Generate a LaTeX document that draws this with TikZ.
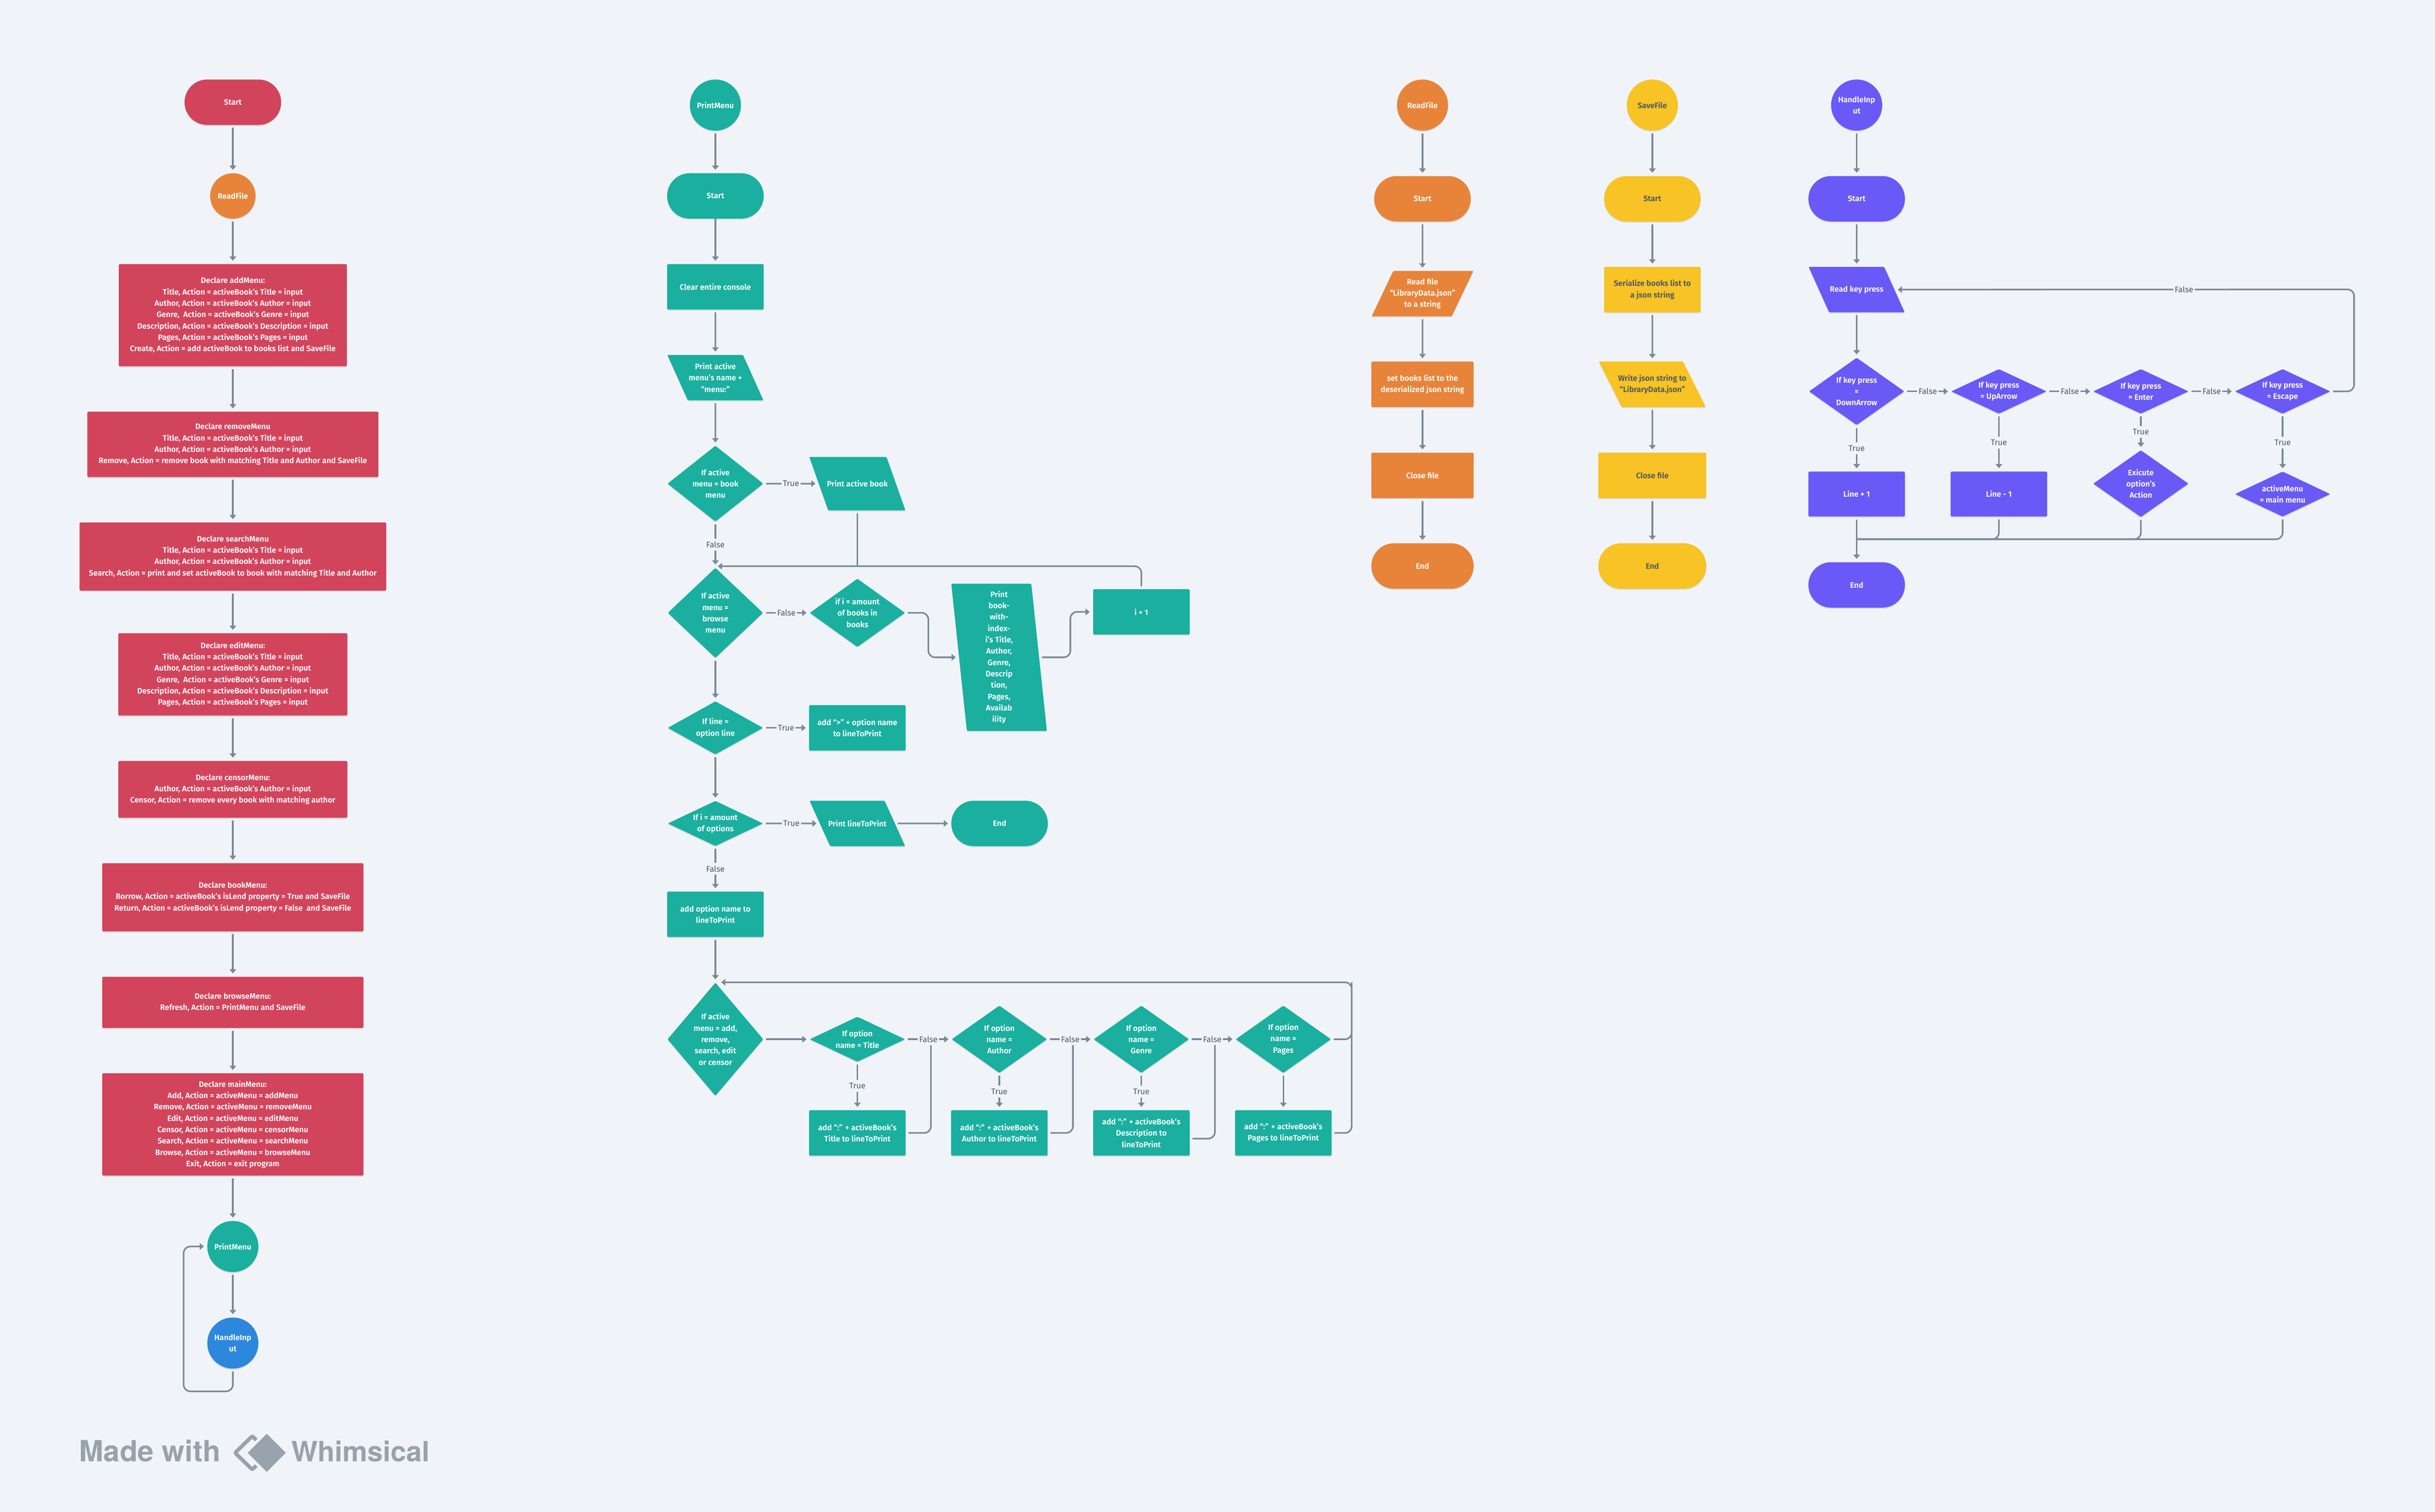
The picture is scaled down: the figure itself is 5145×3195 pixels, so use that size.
\documentclass[tikz,border=0pt]{standalone}
\usepackage{fontspec}
\setmainfont{Fira Sans}[BoldFont={Fira Sans SemiBold}]
\newfontfamily\logofont{TeX Gyre Heros}
\usetikzlibrary{arrows.meta,shapes.geometric,shadows}
\definecolor{bgc}{HTML}{F0F4F8}
\definecolor{redc}{HTML}{D2445B}
\definecolor{tealc}{HTML}{1AAF9F}
\definecolor{orangec}{HTML}{E8833A}
\definecolor{yellowc}{HTML}{F7C325}
\definecolor{purplec}{HTML}{6959F6}
\definecolor{bluec}{HTML}{2D87DD}
\definecolor{linec}{HTML}{7A8999}
\definecolor{labc}{HTML}{4B5766}
\definecolor{darkt}{HTML}{4A5560}
\definecolor{logoc}{HTML}{98A2AC}
\newcommand{\nf}{\fontsize{8.3}{12}\selectfont\bfseries}
\newcommand{\lf}{\fontsize{8.6}{12}\selectfont}
\newcommand{\ph}{\phantom{x}}
\tikzset{
  x=0.5pt,y=-0.5pt,
  wh/.style 2 args={minimum width=#1*0.5pt,minimum height=#2*0.5pt},
  shad/.style={general shadow={fill=black,opacity=.10,shadow yshift=-1.2pt}},
  base/.style={inner sep=0pt,outer sep=0pt,align=center,text=white,font=\nf,shad},
  rect/.style={base,rectangle,rounded corners=1pt},
  pill/.style={base,rectangle,rounded corners=23.9pt},
  circ/.style={base,ellipse},
  dia/.style={base,diamond,rounded corners=1pt},
  back/.style={base,trapezium,trapezium stretches=true,trapezium left angle=#1,trapezium right angle=180-#1,rounded corners=1pt},
  every label/.style={font=\nf,align=center,text=white,inner sep=0pt},
  line/.style={draw=linec,line width=1.7pt,rounded corners=7pt,shorten <=3pt},
  conn/.style={line,-{Triangle[width=7pt,length=4.5pt]},shorten >=3.5pt},
  lab/.style={fill=bgc,text=labc,font=\lf,inner xsep=1.5pt,inner ysep=0pt,minimum height=12.5pt,outer sep=0pt},
  logotext/.style={anchor=base west,inner sep=0pt,text=logoc,font=\logofont\fontsize{#1}{32}\selectfont\bfseries},
}
\begin{document}
\begin{tikzpicture}
\fill[bgc] (0,0) rectangle (5145,3195);
\useasboundingbox (0,0) rectangle (5145,3195);

% ---------- column 1
\begin{scope}[every node/.append style={fill=redc}]
\node[pill,wh={204}{96}] (s1) at (492,216) {Start};
\node[rect,wh={482}{216}] (addm) at (492,666) {Declare addMenu:\\Title, Action = activeBook’s Title = input\\Author, Action = activeBook’s Author = input\\Genre,\ \ Action = activeBook’s Genre = input\\Description, Action = activeBook’s Description = input\\Pages, Action = activeBook’s Pages = input\\Create, Action = add activeBook to books list and SaveFile};
\node[rect,wh={615}{138}] (remm) at (492,939) {Declare removeMenu\\Title, Action = activeBook’s Title = input\\Author, Action = activeBook’s Author = input\\Remove, Action = remove book with matching Title and Author and SaveFile};
\node[rect,wh={648}{144}] (sem) at (492,1176) {Declare searchMenu\\Title, Action = activeBook’s Title = input\\Author, Action = activeBook’s Author = input\\Search, Action = print and set activeBook to book with matching Title and Author};
\node[rect,wh={484}{174}] (edm) at (492,1425) {Declare editMenu:\\Title, Action = activeBook’s Title = input\\Author, Action = activeBook’s Author = input\\Genre,\ \ Action = activeBook’s Genre = input\\Description, Action = activeBook’s Description = input\\Pages, Action = activeBook’s Pages = input};
\node[rect,wh={484}{120}] (cem) at (492,1668) {Declare censorMenu:\\Author, Action = activeBook’s Author = input\\Censor, Action = remove every book with matching author};
\node[rect,wh={552}{144}] (bom) at (492,1896) {Declare bookMenu:\\Borrow, Action = activeBook’s isLend property = True and SaveFile\\Return, Action = activeBook’s isLend property = False\ \ and SaveFile};
\node[rect,wh={552}{108}] (brm) at (492,2118) {Declare browseMenu:\\Refresh, Action = PrintMenu and SaveFile};
\node[rect,wh={552}{216}] (mam) at (492,2376) {Declare mainMenu:\\Add, Action = activeMenu = addMenu\\Remove, Action = activeMenu = removeMenu\\Edit, Action = activeMenu = editMenu\\Censor, Action = activeMenu = censorMenu\\Search, Action = activeMenu = searchMenu\\Browse, Action = activeMenu = browseMenu\\Exit, Action = exit program};
\end{scope}
\node[circ,fill=orangec,wh={96}{96},label={center:{ReadFile}}] (rf1) at (492,414) {};
\node[circ,fill=tealc,wh={108}{108},label={center:{PrintMenu}}] (pm1) at (492,2634) {};
\node[circ,fill=bluec,wh={108}{108},label={center:{HandleInp\\ut}}] (hi1) at (492,2838) {};
\coordinate (lb1) at (388,2940);
\coordinate (lb2) at (388,2634);
\draw[conn] (s1.south)--(rf1.north);
\draw[conn] (rf1.south)--(addm.north);
\draw[conn] (addm.south)--(remm.north);
\draw[conn] (remm.south)--(sem.north);
\draw[conn] (sem.south)--(edm.north);
\draw[conn] (edm.south)--(cem.north);
\draw[conn] (cem.south)--(bom.north);
\draw[conn] (bom.south)--(brm.north);
\draw[conn] (brm.south)--(mam.north);
\draw[conn] (mam.south)--(pm1.north);
\draw[conn] (pm1.south)--(hi1.north);
\draw[conn] (hi1.south)|-(lb1)--(lb2)--(pm1.west);

% ---------- column 2
\begin{scope}[every node/.append style={fill=tealc}]
\node[circ,wh={108}{108},label={center:{PrintMenu}}] (pm) at (1511.6,222) {};
\node[pill,wh={204}{96}] (s2) at (1511.6,414) {Start};
\node[rect,wh={204}{96}] (clr) at (1511.6,606) {Clear entire console};
\node[back=109.5,wh={203}{96},label={center:{Print active\\menu’s name +\\“menu:”}}] (pam) at (1511.6,798) {\ph};
\node[dia,wh={202}{160},label={center:{If active\\menu = book\\menu}}] (d1) at (1511.6,1022) {};
\node[back=107.2,wh={203}{113},label={center:{Print active book}}] (pab) at (1811.6,1022) {\ph};
\node[dia,wh={201}{190},label={center:{If active\\menu =\\browse\\menu}}] (d2) at (1511.6,1295) {};
\node[dia,wh={201}{144},label={center:{if i = amount\\of books in\\books}}] (d3) at (1811.6,1295) {};
\node[back=103,wh={202}{311},label={center:{Print\\book-\\with-\\index-\\i’s Title,\\Author,\\Genre,\\Descrip\\tion,\\Pages,\\Availab\\ility}}] (pt) at (2111,1389) {\ph};
\node[rect,wh={204}{96}] (ip) at (2411.6,1293) {i + 1};
\node[dia,wh={201}{112},label={center:{If line =\\option line}}] (d4) at (1511.6,1538) {};
\node[rect,wh={204}{96}] (gt) at (1811.6,1538) {add “>” + option name\\to lineToPrint};
\node[dia,wh={201}{95},label={center:{If i = amount\\of options}}] (d5) at (1511.6,1740) {};
\node[back=109.8,wh={202}{96},label={center:{Print lineToPrint}}] (pl) at (1811.6,1740) {\ph};
\node[pill,wh={204}{96}] (e2) at (2112,1740) {End};
\node[rect,wh={204}{96}] (aon) at (1511.6,1932) {add option name to\\lineToPrint};
\node[dia,wh={202}{239},label={center:{If active\\menu = add,\\remove,\\search, edit\\or censor}}] (d6) at (1511.6,2196) {};
\node[dia,wh={201}{95},label={center:{If option\\name = Title}}] (o1) at (1811.6,2196) {};
\node[dia,wh={201}{142},label={center:{If option\\name =\\Author}}] (o2) at (2111.6,2196) {};
\node[dia,wh={201}{142},label={center:{If option\\name =\\Genre}}] (o3) at (2411.6,2196) {};
\node[dia,wh={201}{142},label={center:{If option\\name =\\Pages}}] (o4) at (2711.6,2196) {};
\node[rect,wh={204}{96}] (b1) at (1811.6,2394) {add “:” + activeBook’s\\Title to lineToPrint};
\node[rect,wh={204}{96}] (b2) at (2111.6,2394) {add “:” + activeBook’s\\Author to lineToPrint};
\node[rect,wh={204}{96}] (b3) at (2411.6,2394) {add “:” + activeBook’s\\Description to\\lineToPrint};
\node[rect,wh={204}{96}] (b4) at (2711.6,2394) {add “:” + activeBook’s\\Pages to lineToPrint};
\end{scope}
\coordinate (j1) at (1511.6,1196.5);
\coordinate (j1c) at (2411.6,1196.5);
\coordinate (j2) at (1511.6,2075.7);
\coordinate (j2r) at (2856,2075.7);
\coordinate (v1) at (1961.6,1389);
\coordinate (v2) at (2261.6,1293);
\coordinate (f1) at (1967,2196);
\coordinate (f2) at (2267,2196);
\coordinate (f3) at (2567,2196);
\draw[conn] (pm.south)--(s2.north);
\draw[conn,shorten <=0pt] (s2.south)--(clr.north);
\draw[conn] (clr.south)--(pam.north);
\draw[conn] (pam.south)--(d1.north);
\draw[conn] (d1.east)--node[lab]{True}(pab.west);
\draw[conn] (d1.south)--node[lab]{False}(d2.north);
\draw[line] (pab.south)--(pab.south|-j1);
\draw[conn,shorten >=2.5pt] (ip.north)--(j1c)--(j1);
\draw[conn] (d2.east)--node[lab]{False}(d3.west);
\draw[conn] (d3.east)-|(v1)--(pt.west);
\draw[conn] (pt.east)-|(v2)--(ip.west);
\draw[conn] (d2.south)--(d4.north);
\draw[conn] (d4.east)--node[lab]{True}(gt.west);
\draw[conn] (d4.south)--(d5.north);
\draw[conn] (d5.east)--node[lab]{True}(pl.west);
\draw[conn] (pl.east)--(e2.west);
\draw[conn] (d5.south)--node[lab]{False}(aon.north);
\draw[conn] (aon.south)--(d6.north);
\draw[conn] (d6.east)--(o1.west);
\draw[line] (b1.east)-|(f1);
\draw[line] (b2.east)-|(f2);
\draw[line] (b3.east)++(0,12)-|(f3);
\draw[conn] (o1.east)--node[lab]{False}(o2.west);
\draw[conn] (o2.east)--node[lab]{False}(o3.west);
\draw[conn] (o3.east)--node[lab]{False}(o4.west);
\draw[conn] (o1.south)--node[lab]{True}(b1.north);
\draw[conn] (o2.south)--node[lab]{True}(b2.north);
\draw[conn] (o3.south)--node[lab]{True}(b3.north);
\draw[conn] (o4.south)--(b4.north);
\draw[line] (o4.east)-|(j2r);
\draw[conn,shorten >=6pt] (b4.east)-|(j2r)--(j2);

% ---------- ReadFile
\begin{scope}[every node/.append style={fill=orangec}]
\node[circ,wh={108}{108},label={center:{ReadFile}}] (rf) at (3005.6,222) {};
\node[pill,wh={204}{96}] (s3) at (3005.6,420) {Start};
\node[back=70.5,wh={215}{96},label={center:{Read file\\“LibraryData.json”\\to a string}}] (rp) at (3005.6,620.5) {\ph};
\node[rect,wh={216}{96}] (sb) at (3005.6,812) {set books list to the\\deserialized json string};
\node[rect,wh={216}{96}] (cf) at (3005.6,1004.5) {Close file};
\node[pill,wh={216}{96}] (e3) at (3005.6,1196) {End};
\end{scope}
\draw[conn] (rf.south)--(s3.north);
\draw[conn] (s3.south)--(rp.north);
\draw[conn] (rp.south)--(sb.north);
\draw[conn] (sb.south)--(cf.north);
\draw[conn] (cf.south)--(e3.north);

% ---------- SaveFile
\begin{scope}[every node/.append style={fill=yellowc},every label/.append style={text=darkt},base/.append style={text=darkt}]
\node[circ,wh={108}{108},label={center:{SaveFile}}] (sf) at (3491.3,222) {};
\node[pill,wh={204}{96}] (s4) at (3491.3,420) {Start};
\node[rect,wh={204}{96}] (sz) at (3491.3,612) {Serialize books list to\\a json string};
\node[back=109.5,wh={226}{96},label={center:{Write json string to\\“LibraryData.json”}}] (wj) at (3491.3,812) {\ph};
\node[rect,wh={228}{96}] (cs) at (3491.3,1004.5) {Close file};
\node[pill,wh={228}{96}] (e4) at (3491.3,1196) {End};
\end{scope}
\draw[conn] (sf.south)--(s4.north);
\draw[conn] (s4.south)--(sz.north);
\draw[conn] (sz.south)--(wj.north);
\draw[conn] (wj.south)--(cs.north);
\draw[conn] (cs.south)--(e4.north);

% ---------- HandleInput
\begin{scope}[every node/.append style={fill=purplec}]
\node[circ,wh={108}{108},label={center:{HandleInp\\ut}}] (hi) at (3923,222) {};
\node[pill,wh={204}{96}] (s5) at (3923,420) {Start};
\node[back=109.5,wh={203}{96},label={center:{Read key press}}] (rk) at (3923,612) {\ph};
\node[dia,wh={201}{142},label={center:{If key press\\=\\DownArrow}}] (k1) at (3923,827) {};
\node[dia,wh={201}{94},label={center:{If key press\\= UpArrow}}] (k2) at (4223.5,827) {};
\node[dia,wh={201}{94},label={center:{If key press\\= Enter}}] (k3) at (4523.5,827) {};
\node[dia,wh={201}{94},label={center:{If key press\\= Escape}}] (k4) at (4823,827) {};
\node[rect,wh={204}{95}] (l1) at (3923,1044) {Line + 1};
\node[rect,wh={204}{95}] (l2) at (4223.5,1044) {Line - 1};
\node[dia,wh={201}{141},label={center:{Exicute\\option’s\\Action}}] (ex) at (4523.5,1022) {};
\node[dia,wh={201}{95},label={center:{activeMenu\\= main menu}}] (am) at (4823,1044) {};
\node[pill,wh={204}{96}] (e5) at (3923,1236) {End};
\end{scope}
\coordinate (lp) at (4974,611.5);
\coordinate (mg) at (3923,1139.5);
\draw[conn] (hi.south)--(s5.north);
\draw[conn] (s5.south)--(rk.north);
\draw[conn] (rk.south)--(k1.north);
\draw[conn] (k1.east)--node[lab]{False}(k2.west);
\draw[conn] (k2.east)--node[lab]{False}(k3.west);
\draw[conn] (k3.east)--node[lab]{False}(k4.west);
\draw[conn] (k4.east)-|(lp)--node[lab,pos=.37]{False}(rk.east);
\draw[conn] (k1.south)--node[lab]{True}(l1.north);
\draw[conn] (k2.south)--node[lab]{True}(l2.north);
\draw[conn] (k3.south)--node[lab]{True}(ex.north);
\draw[conn] (k4.south)--node[lab]{True}(am.north);
\draw[conn] (l1.south)--(e5.north);
\draw[line] (l2.south)|-(mg);
\draw[line] (ex.south)|-(mg);
\draw[line] (am.south)|-(mg);

% ---------- watermark
\node[logotext=30.9] (mw) at (167,3089) {Made with};
\node[logotext=29.6] (wh) at (615,3089) {Whimsical};
\node[diamond,draw=logoc,line width=4pt,inner sep=0pt,wh={76}{74},rounded corners=1.5pt] (lg1) at (533,3070) {};
\node[diamond,fill=logoc,draw=bgc,line width=3pt,inner sep=0pt,wh={92}{92},rounded corners=1pt] (lg2) at (563.7,3070) {};
\end{tikzpicture}
\end{document}
